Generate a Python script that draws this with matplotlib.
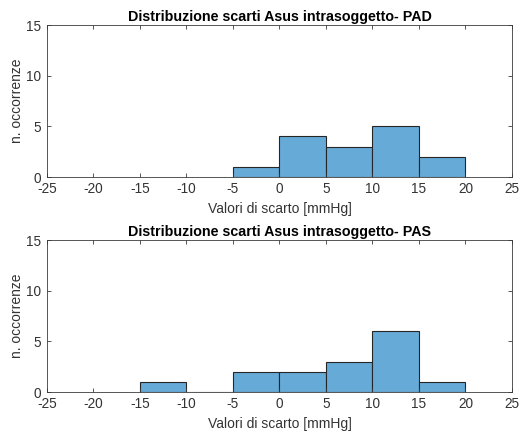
import matplotlib
matplotlib.use("Agg")
import matplotlib.pyplot as plt
import numpy as np

plt.rcParams['font.family'] = ['Liberation Sans', 'DejaVu Sans']
plt.rcParams['axes.unicode_minus'] = False

# Data
pad_edges = [-5, 0, 5, 10, 15, 20]
pad_counts = [1, 4, 3, 5, 2]
pas_edges = [-15, -10, -5, 0, 5, 10, 15, 20]
pas_counts = [1, 0, 2, 2, 3, 6, 1]
xticks = [-25, -20, -15, -10, -5, 0, 5, 10, 15, 20, 25]
yticks = [0, 5, 10, 15]
titles = ["Distribuzione scarti Asus intrasoggetto- PAD",
          "Distribuzione scarti Asus intrasoggetto- PAS"]
xlabel = "Valori di scarto [mmHg]"
ylabel = "n. occorrenze"

fig = plt.figure(figsize=(5.25, 4.36), dpi=100)
ax1 = fig.add_axes([0.0895, 0.594, 0.8857, 0.3486])
ax2 = fig.add_axes([0.0895, 0.1009, 0.8857, 0.3486])

face = '#66aad7'
edge = '#262626'
axcol = '#3a3a3a'
txtcol = '#333333'

for ax, edges, counts, title in [(ax1, pad_edges, pad_counts, titles[0]),
                                 (ax2, pas_edges, pas_counts, titles[1])]:
    e = np.array(edges, dtype=float)
    ax.bar(e[:-1], counts, width=np.diff(e), align='edge',
           color=face, edgecolor=edge, linewidth=0.8)
    ax.set_xlim(-25, 25)
    ax.set_ylim(0, 15)
    ax.set_xticks(xticks)
    ax.set_yticks(yticks)
    ax.tick_params(direction='in', top=True, right=True, length=3,
                   width=0.6, colors=axcol, labelsize=9.8, labelcolor=txtcol)
    ax.tick_params(axis='x', pad=3.5)
    ax.tick_params(axis='y', pad=4.5)
    for s in ax.spines.values():
        s.set_color(axcol)
        s.set_linewidth(0.6)
    ax.set_title(title, fontsize=10.3, fontweight='bold', color='black', pad=3)
    ax.set_xlabel(xlabel, fontsize=10, color=txtcol, labelpad=4.5)
    ax.set_ylabel(ylabel, fontsize=10, color=txtcol, labelpad=1)

fig.savefig("out.png", dpi=100)
